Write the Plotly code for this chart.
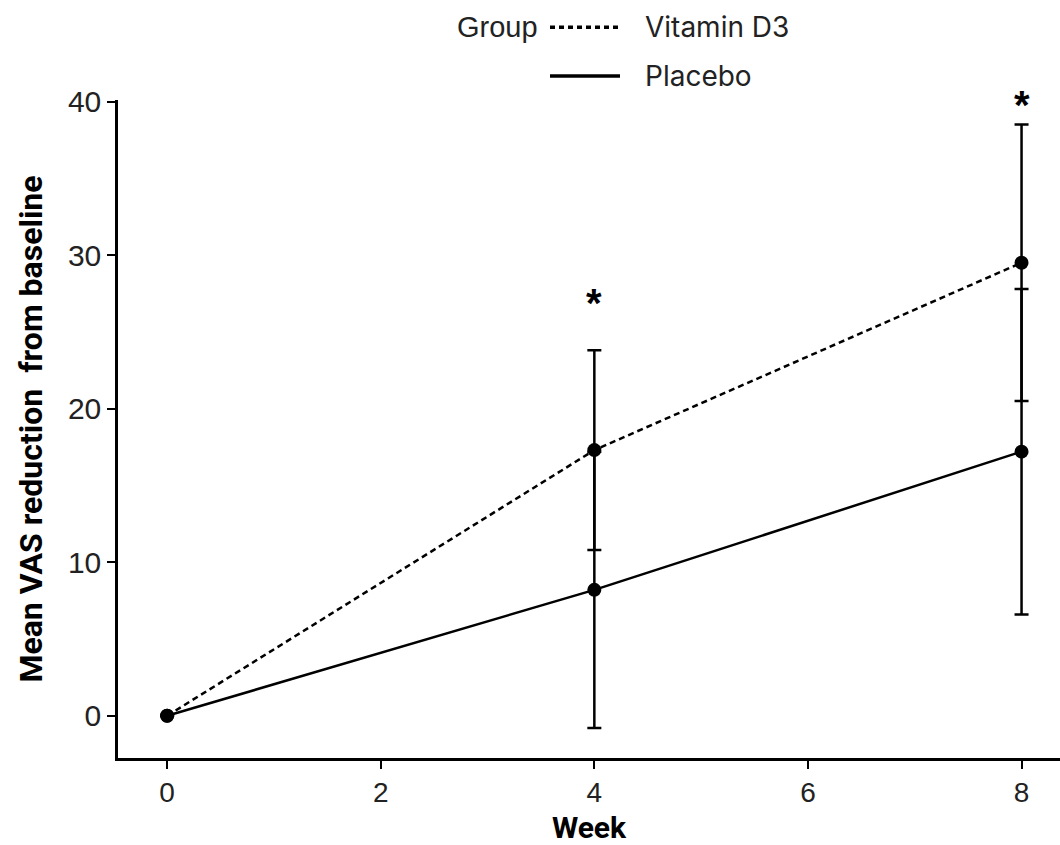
import plotly.graph_objects as go

weeks = [0, 4, 8]
vitd_mean = [0, 17.3, 29.5]
vitd_err = [0, 6.5, 9.0]
plac_mean = [0, 8.2, 17.2]
plac_err = [0, 9.0, 10.6]
star_weeks = [4, 8]
star_y = [27.4, 40.3]
x_ticks = [0, 2, 4, 6, 8]
y_ticks = [0, 10, 20, 30, 40]
group_names = ["Vitamin D3", "Placebo"]
legend_title = "Group"

X_RANGE = [-0.46, 8.36]
Y_RANGE = [-2.75, 40.1]

fig = go.Figure()

fig.add_trace(go.Scatter(
    x=weeks, y=plac_mean, mode="lines+markers", name=group_names[1], showlegend=False,
    line=dict(color="black", width=2.5),
    marker=dict(color="black", size=14),
    error_y=dict(type="data", array=plac_err, visible=True, color="black", thickness=2.5, width=7),
))
fig.add_trace(go.Scatter(
    x=weeks, y=vitd_mean, mode="lines+markers", name=group_names[0], showlegend=False,
    line=dict(color="black", width=2.5, dash="6px,4px"),
    marker=dict(color="black", size=14),
    error_y=dict(type="data", array=vitd_err, visible=True, color="black", thickness=2.5, width=7),
))

# significance stars (converted to axis-domain fraction so they are not hidden above the range)
for xw, ys in zip(star_weeks, star_y):
    frac = (ys - Y_RANGE[0]) / (Y_RANGE[1] - Y_RANGE[0])
    fig.add_annotation(x=xw, y=frac, xref="x", yref="y domain", text="<b>*</b>", showarrow=False,
                       yshift=16, font=dict(size=40, color="black", family="Liberation Sans"))

# legend drawn as keys + labels above the plot
fig.add_annotation(x=0.448, y=1.1106, xref="paper", yref="paper", xanchor="right", yanchor="middle",
                   text=legend_title, showarrow=False,
                   font=dict(size=29, family="Liberation Sans", color="#222"))
key_dash = ["5px,4px", "solid"]
key_y = [1.1106, 1.0364]
for name, dsh, ky in zip(group_names, key_dash, key_y):
    fig.add_shape(type="line", xref="paper", yref="paper", x0=0.4586, x1=0.5329, y0=ky, y1=ky,
                  line=dict(color="black", width=3.5, dash=dsh))
    fig.add_annotation(x=0.5573, y=ky, xref="paper", yref="paper", xanchor="left", yanchor="middle",
                       text=name, showarrow=False,
                       font=dict(size=28, family="Inter", color="#222"))

fig.update_layout(
    width=1060, height=845,
    margin=dict(l=118, r=0, t=100, b=85),
    plot_bgcolor="white", paper_bgcolor="white",
    font=dict(family="Liberation Sans", color="black"),
    showlegend=False,
    xaxis=dict(
        range=X_RANGE, tickvals=x_ticks, ticktext=[str(v) for v in x_ticks],
        showline=True, linecolor="black", linewidth=2.5, mirror=False,
        ticks="outside", ticklen=8, tickwidth=2, tickcolor="black",
        showgrid=False, zeroline=False,
        tickfont=dict(size=28, family="Liberation Sans", color="#222"),
        title=dict(text="<b>Week</b>", font=dict(size=30, family="Roboto", color="black"), standoff=16),
    ),
    yaxis=dict(
        range=Y_RANGE, tickvals=y_ticks, ticktext=[str(v) for v in y_ticks],
        showline=True, linecolor="black", linewidth=2.5,
        ticks="outside", ticklen=8, tickwidth=2, tickcolor="black",
        showgrid=False, zeroline=False,
        tickfont=dict(size=30, family="Liberation Sans", color="#222"),
        title=dict(text="<b>Mean VAS reduction  from baseline</b>", font=dict(size=32, family="Roboto", color="black"), standoff=16),
    ),
)

fig.write_html("out.html")
